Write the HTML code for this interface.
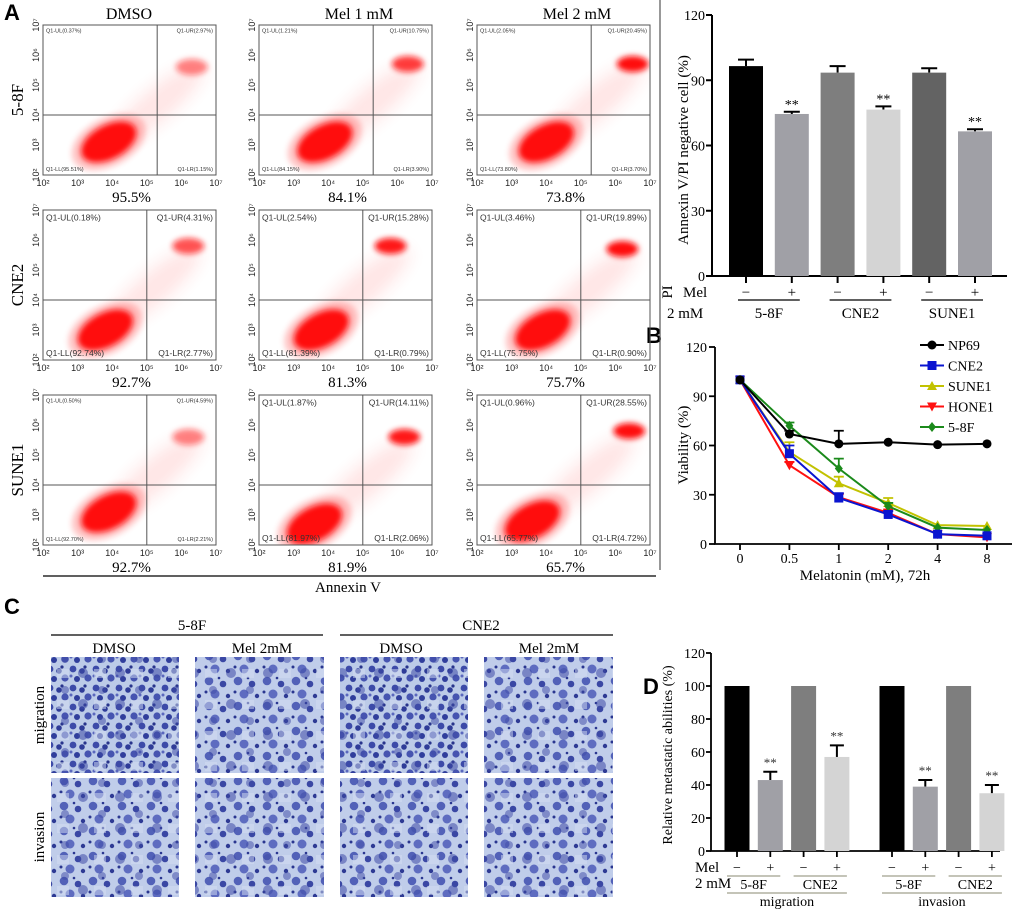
<!DOCTYPE html>
<html>
<head>
<meta charset="utf-8">
<style>
  html,body{margin:0;padding:0;background:#fff;}
  svg{display:block;}
  .serif{font-family:"Liberation Serif",serif;}
  .sans{font-family:"Liberation Sans",sans-serif;}
  .letter{font-family:"Liberation Sans",sans-serif;font-weight:bold;font-size:22px;}
</style>
</head>
<body>
<svg id="fig" width="1020" height="912" viewBox="0 0 1020 912" xmlns="http://www.w3.org/2000/svg">
  <defs>
    <filter id="blur3" x="-50%" y="-50%" width="200%" height="200%"><feGaussianBlur stdDeviation="3"/></filter>
    <filter id="blur8" x="-50%" y="-50%" width="200%" height="200%"><feGaussianBlur stdDeviation="8"/></filter>
    <pattern id="cellsA" width="23" height="19" patternUnits="userSpaceOnUse">
      <rect width="23" height="19" fill="#bccbe8"/>
      <circle cx="4" cy="4" r="3.4" fill="#3c4aa8"/>
      <circle cx="13" cy="6" r="2.8" fill="#2f3c98"/>
      <circle cx="19" cy="13" r="3.6" fill="#4654b0"/>
      <circle cx="8" cy="14" r="3" fill="#303e9c"/>
      <circle cx="16" cy="2" r="1.6" fill="#28348c"/>
      <circle cx="2" cy="11" r="1.5" fill="#5a67bd"/>
    </pattern>
    <pattern id="cellsB" width="29" height="25" patternUnits="userSpaceOnUse">
      <rect width="29" height="25" fill="#c0cdea"/>
      <circle cx="6" cy="6" r="4.3" fill="#5261b8"/>
      <circle cx="20" cy="9" r="3.3" fill="#3a47a4"/>
      <circle cx="12" cy="19" r="4.5" fill="#5e6cc0"/>
      <circle cx="25" cy="21" r="2.2" fill="#2e3a94"/>
      <circle cx="3" cy="17" r="1.5" fill="#2a3690"/>
      <circle cx="16" cy="3" r="1.3" fill="#2a3690"/>
    </pattern>
    <pattern id="cellsC" width="37" height="31" patternUnits="userSpaceOnUse">
      <circle cx="9" cy="22" r="5" fill="#3d4aa6" opacity="0.55"/>
      <circle cx="28" cy="8" r="4" fill="#3d4aa6" opacity="0.5"/>
      <rect x="20" y="18" width="12" height="9" fill="#d4def2" opacity="0.5"/>
    </pattern>
  </defs>

  <text class="letter" x="4" y="20">A</text>
  <text class="letter" x="646" y="343">B</text>
  <text class="letter" x="4" y="614">C</text>
  <text class="letter" x="643" y="694">D</text>

  <line x1="660" y1="0" x2="660" y2="570" stroke="#555" stroke-width="1.2"/>

  <g class="serif" font-size="16" text-anchor="middle">
    <text x="129" y="19">DMSO</text>
    <text x="359" y="19">Mel 1 mM</text>
    <text x="577" y="19">Mel 2 mM</text>
  </g>
  <g class="serif" font-size="17" text-anchor="middle">
    <text transform="translate(23,100) rotate(-90)">5-8F</text>
    <text transform="translate(23,285) rotate(-90)">CNE2</text>
    <text transform="translate(23,470) rotate(-90)">SUNE1</text>
  </g>
  <line x1="43" y1="576" x2="656" y2="576" stroke="#000" stroke-width="1.2"/>
  <text class="serif" x="348" y="592" font-size="15" text-anchor="middle">Annexin V</text>
  <g id="flow"></g>

  <g id="barA"></g>
  <text class="serif" font-size="15" text-anchor="middle" transform="translate(688,150) rotate(-90)">Annexin V/PI negative cell (%)</text>
  <text class="serif" font-size="15" text-anchor="middle" transform="translate(672,292) rotate(-90)">PI</text>
  <text class="serif" font-size="15" x="683" y="297">Mel</text>
  <text class="serif" font-size="15" x="667" y="318">2 mM</text>

  <g id="lineB"></g>
  <text class="serif" font-size="15" text-anchor="middle" transform="translate(688,445) rotate(-90)">Viability (%)</text>
  <text class="serif" font-size="15" x="865" y="580" text-anchor="middle">Melatonin (mM), 72h</text>

  <g class="serif" font-size="15" text-anchor="middle">
    <text x="192" y="630">5-8F</text>
    <text x="481" y="630">CNE2</text>
    <text x="114" y="653">DMSO</text>
    <text x="262" y="653">Mel 2mM</text>
    <text x="401" y="653">DMSO</text>
    <text x="549" y="653">Mel 2mM</text>
    <text transform="translate(44,715) rotate(-90)">migration</text>
    <text transform="translate(44,837) rotate(-90)">invasion</text>
  </g>
  <line x1="51" y1="635" x2="323" y2="635" stroke="#000" stroke-width="1.2"/>
  <line x1="340" y1="635" x2="613" y2="635" stroke="#000" stroke-width="1.2"/>
  <g id="micro"></g>

  <g id="barD"></g>
  <text class="serif" font-size="14" text-anchor="middle" transform="translate(672,755) rotate(-90)">Relative metastatic abilities (%)</text>
  <text class="serif" font-size="15" x="695" y="872">Mel</text>
  <text class="serif" font-size="15" x="695" y="888">2 mM</text>
</svg>

<script>
const NS = 'http://www.w3.org/2000/svg';
function mk(tag, attrs, parent) {
  const el = document.createElementNS(NS, tag);
  for (const k in attrs) el.setAttribute(k, attrs[k]);
  parent.appendChild(el);
  return el;
}

const aGroups = ['5-8F', 'CNE2', 'SUNE1'];
const aValues = [96.5, 74.5, 93.5, 76.5, 93.5, 66.5];
const aErrors = [3, 1, 3, 1.5, 2, 1];
const aSig = ['', '**', '', '**', '', '**'];
const aTicks = [0, 30, 60, 90, 120];
const aFill = ['#000000', '#a0a0a6', '#7e7e7e', '#d4d4d4', '#636363', '#a0a0a6'];

const bCats = ['0', '0.5', '1', '2', '4', '8'];
const bNP69 = [100, 67, 61, 62, 60.5, 61];
const bCNE2 = [100, 55, 28, 18, 6, 5];
const bSUNE1 = [100, 56, 37, 25, 11.5, 11];
const bHONE1 = [100, 48, 28.5, 19, 6, 4];
const b58F = [100, 72, 46, 23, 10, 8.5];
const bErrNP69 = [0, 2, 8, 1, 1, 1];
const bErrCNE2 = [0, 5, 3, 2, 1, 1];
const bErrSUNE1 = [0, 6, 4, 3, 1, 1];
const bErrHONE1 = [0, 2, 2, 2, 1, 1];
const bErr58F = [0, 2, 6, 2, 1, 1];
const bTicks = [0, 30, 60, 90, 120];

const dGroups = ['migration', 'invasion'];
const dCells = ['5-8F', 'CNE2'];
const dValues = [100, 43, 100, 57, 100, 39, 100, 35];
const dErrors = [0, 5, 0, 7, 0, 4, 0, 5];
const dSig = ['', '**', '', '**', '', '**', '', '**'];
const dTicks = [0, 20, 40, 60, 80, 100, 120];
const dFill = ['#000000', '#a0a0a6', '#7e7e7e', '#d4d4d4'];

const flowUL = [[0.37, 1.21, 2.05], [0.18, 2.54, 3.46], [0.50, 1.87, 0.96]];
const flowUR = [[2.97, 10.75, 20.45], [4.31, 15.28, 19.89], [4.59, 14.11, 28.55]];
const flowLL = [[95.51, 84.15, 73.80], [92.74, 81.39, 75.75], [92.70, 81.97, 65.77]];
const flowLR = [[1.15, 3.90, 3.70], [2.77, 0.79, 0.90], [2.21, 2.06, 4.72]];
const flowLive = [['95.5', '84.1', '73.8'], ['92.7', '81.3', '75.7'], ['92.7', '81.9', '65.7']];
const flowGateX = [5.3, 5.0, 5.0];
const flowBigLabel = [[false, false, false], [true, true, true], [false, true, true]];
const flowClusters = [
  [[3.9, 3.1, 6.3, 5.6, 0.5], [3.9, 3.1, 6.3, 5.7, 0.8], [4.0, 3.1, 6.5, 5.7, 1.0]],
  [[3.8, 3.0, 6.2, 5.8, 0.7], [3.8, 3.0, 5.8, 5.8, 0.95], [3.9, 3.0, 6.2, 5.7, 1.0]],
  [[3.9, 3.1, 6.2, 5.6, 0.5], [3.6, 2.7, 6.2, 5.6, 0.95], [3.6, 2.8, 6.4, 5.8, 1.0]]
];

const colX = [43, 259, 477], rowY = [25, 210, 395], PW = 173, PH = 150;

(function () {
  const g = document.getElementById('flow');
  const sup = ['²', '³', '⁴', '⁵', '⁶', '⁷'];
  for (let r = 0; r < 3; r++) {
    for (let c = 0; c < 3; c++) {
      const x0 = colX[c], y0 = rowY[r];
      const lx = v => x0 + (v - 2) / 5 * PW;
      const ly = v => y0 + PH - (v - 2) / 5 * PH;
      const pg = mk('g', {}, g);
      
      
      const clip = mk('clipPath', { id: 'clip' + r + c }, pg);
      mk('rect', { x: x0, y: y0, width: PW, height: PH }, clip);
      const cg = mk('g', { 'clip-path': 'url(#clip' + r + c + ')' }, pg);
      const cl = flowClusters[r][c];
      const mx = lx((cl[0] + cl[2]) / 2 + 0.2), my = ly((cl[1] + cl[3]) / 2);
      const cloud = mk('ellipse', { cx: mx, cy: my, rx: 60, ry: 16, fill: '#ff3030', opacity: 0.12, filter: 'url(#blur8)', transform: 'rotate(-40 ' + mx + ' ' + my + ')' }, cg);
      
      
      const llx = lx(cl[0]), lly = ly(cl[1]);
      const llh = mk('ellipse', { cx: llx, cy: lly, rx: 40, ry: 24, fill: '#ff4040', opacity: 0.3, filter: 'url(#blur3)', transform: 'rotate(-28 ' + llx + ' ' + lly + ')' }, cg);
      
      
      const ll = mk('ellipse', { cx: llx, cy: lly, rx: 30, ry: 17, fill: '#ff1010', filter: 'url(#blur3)', transform: 'rotate(-28 ' + llx + ' ' + lly + ')' }, cg);
      
      
      const ur = mk('ellipse', { cx: lx(cl[2]), cy: ly(cl[3]), rx: 16, ry: 8, fill: '#ff1010', opacity: cl[4], filter: 'url(#blur3)' }, cg);
      
      
      const fr = mk('rect', { x: x0, y: y0, width: PW, height: PH, fill: 'none', stroke: '#555', 'stroke-width': 1 }, pg);
      
      
      const vx = lx(flowGateX[r]);
      const gv = mk('line', { x1: vx, y1: y0, x2: vx, y2: y0 + PH, stroke: '#555', 'stroke-width': 1 }, pg);
      
      
      const gh = mk('line', { x1: x0, y1: ly(4), x2: x0 + PW, y2: ly(4), stroke: '#555', 'stroke-width': 1 }, pg);
      
      
      const big = flowBigLabel[r][c];
      const fs = big ? 8.5 : 5.5;
      const f = v => v.toFixed(2) + '%';
      const q = [['Q1-UL(' + f(flowUL[r][c]) + ')', x0 + 3, y0 + fs + 2, 'start'],
                 ['Q1-UR(' + f(flowUR[r][c]) + ')', x0 + PW - 3, y0 + fs + 2, 'end'],
                 ['Q1-LL(' + f(flowLL[r][c]) + ')', x0 + 3, y0 + PH - 4, 'start'],
                 ['Q1-LR(' + f(flowLR[r][c]) + ')', x0 + PW - 3, y0 + PH - 4, 'end']];
      q.forEach(t => {
        const tx = mk('text', { x: t[1], y: t[2], 'font-size': fs, 'text-anchor': t[3], fill: '#333', class: 'sans' }, pg);
        tx.textContent = t[0];
        
        
      });
      for (let e = 2; e <= 7; e++) {
        const xt = mk('text', { x: lx(e), y: y0 + PH + 11, 'font-size': 9, 'text-anchor': 'middle', class: 'sans', fill: '#222' }, pg);
        xt.textContent = '10' + sup[e - 2];
        
        
        const yt = mk('text', { 'font-size': 9, 'text-anchor': 'middle', class: 'sans', fill: '#222', transform: 'translate(' + (x0 - 4) + ',' + ly(e) + ') rotate(-90)' }, pg);
        yt.textContent = '10' + sup[e - 2];
        
        
      }
      const pct = mk('text', { x: x0 + PW / 2 + 2, y: y0 + PH + 27, 'font-size': 15, 'text-anchor': 'middle', class: 'serif' }, pg);
      pct.textContent = flowLive[r][c] + '%';
      
      
    }
  }
})();

(function () {
  const g = document.getElementById('barA');
  const yA = v => 276 - v * (261 / 120);
  const xA = i => 746 + i * 45.8;
  const axis = mk('path', { d: 'M712 15 V276 H1007', fill: 'none', stroke: '#000', 'stroke-width': 2 }, g);
  
  
  aTicks.forEach(t => {
    const tk = mk('line', { x1: 706, y1: yA(t), x2: 712, y2: yA(t), stroke: '#000', 'stroke-width': 2 }, g);
    
    
    const tl = mk('text', { x: 705, y: yA(t) + 5, 'text-anchor': 'end', 'font-size': 14, class: 'serif' }, g);
    tl.textContent = t;
    
    
  });
  aValues.forEach((v, i) => {
    const x = xA(i);
    const eb = mk('path', { d: 'M' + x + ' ' + yA(v) + ' V' + yA(v + aErrors[i]) + ' M' + (x - 8) + ' ' + yA(v + aErrors[i]) + ' H' + (x + 8), stroke: '#000', 'stroke-width': 2, fill: 'none' }, g);
    
    
    const b = mk('rect', { x: x - 17, y: yA(v), width: 34, height: 276 - yA(v), fill: aFill[i] }, g);
    
    
    const tk = mk('line', { x1: x, y1: 276, x2: x, y2: 283, stroke: '#000', 'stroke-width': 2 }, g);
    
    
    if (aSig[i]) {
      const s = mk('text', { x: x, y: yA(v + aErrors[i]) - 3, 'text-anchor': 'middle', 'font-size': 14, class: 'serif' }, g);
      s.textContent = aSig[i];
      
      
    }
    const pm = mk('text', { x: x, y: 297, 'text-anchor': 'middle', 'font-size': 15, class: 'serif' }, g);
    pm.textContent = i % 2 ? '+' : '\u2212';
    
    
  });
  aGroups.forEach((name, k) => {
    const x1 = xA(2 * k), x2 = xA(2 * k + 1);
    const ul = mk('line', { x1: x1 - 8, y1: 300, x2: x2 + 8, y2: 300, stroke: '#000', 'stroke-width': 1.2 }, g);
    
    
    const gl = mk('text', { x: (x1 + x2) / 2, y: 318, 'text-anchor': 'middle', 'font-size': 15, class: 'serif' }, g);
    gl.textContent = name;
    
    
  });
})();

(function () {
  const g = document.getElementById('lineB');
  const xB = i => 740 + i * 49.4;
  const yB = v => 544 - v * (197 / 120);
  const axis = mk('path', { d: 'M715 347 V544 H1012', fill: 'none', stroke: '#000', 'stroke-width': 1.8 }, g);
  
  
  bTicks.forEach(t => {
    const tk = mk('line', { x1: 709, y1: yB(t), x2: 715, y2: yB(t), stroke: '#000', 'stroke-width': 1.8 }, g);
    
    
    const tl = mk('text', { x: 707, y: yB(t) + 5, 'text-anchor': 'end', 'font-size': 14, class: 'serif' }, g);
    tl.textContent = t;
    
    
  });
  bCats.forEach((c, i) => {
    const tk = mk('line', { x1: xB(i), y1: 544, x2: xB(i), y2: 550, stroke: '#000', 'stroke-width': 1.8 }, g);
    
    
    const tl = mk('text', { x: xB(i), y: 563, 'text-anchor': 'middle', 'font-size': 14, class: 'serif' }, g);
    tl.textContent = c;
    
    
  });
  function marker(parent, type, x, y, col) {
    if (type === 'circle') return mk('circle', { cx: x, cy: y, r: 4.5, fill: col }, parent);
    if (type === 'square') return mk('rect', { x: x - 4.5, y: y - 4.5, width: 9, height: 9, fill: col }, parent);
    if (type === 'up') return mk('path', { d: 'M' + x + ' ' + (y - 5) + ' L' + (x + 5) + ' ' + (y + 4) + ' L' + (x - 5) + ' ' + (y + 4) + 'Z', fill: col }, parent);
    if (type === 'down') return mk('path', { d: 'M' + x + ' ' + (y + 5) + ' L' + (x + 5) + ' ' + (y - 4) + ' L' + (x - 5) + ' ' + (y - 4) + 'Z', fill: col }, parent);
    return mk('path', { d: 'M' + x + ' ' + (y - 5) + ' L' + (x + 4) + ' ' + y + ' L' + x + ' ' + (y + 5) + ' L' + (x - 4) + ' ' + y + 'Z', fill: col }, parent);
  }
  const series = [
    ['HONE1', bHONE1, bErrHONE1, '#ff1010', 'down'],
    ['SUNE1', bSUNE1, bErrSUNE1, '#c2c200', 'up'],
    ['5-8F', b58F, bErr58F, '#1b8a1b', 'diamond'],
    ['CNE2', bCNE2, bErrCNE2, '#0a14d0', 'square'],
    ['NP69', bNP69, bErrNP69, '#000000', 'circle']
  ];
  series.forEach(s => {
    const sg = mk('g', {}, g);
    
    
    const pts = s[1].map((v, i) => xB(i) + ',' + yB(v)).join(' ');
    const pl = mk('polyline', { points: pts, fill: 'none', stroke: s[3], 'stroke-width': 2 }, sg);
    
    
    s[1].forEach((v, i) => {
      if (s[2][i] > 1.5) {
        const e = mk('path', { d: 'M' + xB(i) + ' ' + yB(v) + ' V' + yB(v + s[2][i]) + ' M' + (xB(i) - 5) + ' ' + yB(v + s[2][i]) + ' H' + (xB(i) + 5), stroke: s[3], 'stroke-width': 1.8, fill: 'none' }, sg);
        
        
      }
      const m = marker(sg, s[4], xB(i), yB(v), s[3]);
      
      
    });
  });
  const legendOrder = [4, 3, 1, 0, 2];
  legendOrder.forEach((si, k) => {
    const s = series[si];
    const y = 345 + k * 20.5;
    const lg = mk('g', {}, g);
    
    
    mk('line', { x1: 920, y1: y, x2: 944, y2: y, stroke: s[3], 'stroke-width': 2 }, lg);
    marker(lg, s[4], 932, y, s[3]);
    const t = mk('text', { x: 948, y: y + 5, 'font-size': 14, class: 'serif' }, lg);
    t.textContent = s[0];
  });
})();

(function () {
  const g = document.getElementById('micro');
  const xs = [[51, 179], [195, 324], [340, 468], [484, 613]];
  const ys = [[657, 773], [778, 897]];
  const fills = [['url(#cellsA)', 'url(#cellsB)', 'url(#cellsA)', 'url(#cellsB)'],
                 ['url(#cellsB)', 'url(#cellsB)', 'url(#cellsB)', 'url(#cellsB)']];
  const names = ['58f-dmso', '58f-mel', 'cne2-dmso', 'cne2-mel'];
  const rows = ['migration', 'invasion'];
  ys.forEach((yy, r) => {
    xs.forEach((xx, c) => {
      const im = mk('g', {}, g);
      
      
      mk('rect', { x: xx[0], y: yy[0], width: xx[1] - xx[0], height: yy[1] - yy[0], fill: fills[r][c] }, im);
      mk('rect', { x: xx[0], y: yy[0], width: xx[1] - xx[0], height: yy[1] - yy[0], fill: 'url(#cellsC)' }, im);
    });
  });
})();

(function () {
  const g = document.getElementById('barD');
  const yD = v => 851 - v * (198 / 120);
  const xD = i => 737 + Math.floor(i / 4) * 155 + (i % 4) * 33.3;
  const axis = mk('path', { d: 'M711 653 V851 H1000', fill: 'none', stroke: '#000', 'stroke-width': 1.8 }, g);
  
  
  dTicks.forEach(t => {
    const tk = mk('line', { x1: 706, y1: yD(t), x2: 711, y2: yD(t), stroke: '#000', 'stroke-width': 1.8 }, g);
    
    
    const tl = mk('text', { x: 705, y: yD(t) + 5, 'text-anchor': 'end', 'font-size': 14, class: 'serif' }, g);
    tl.textContent = t;
    
    
  });
  dValues.forEach((v, i) => {
    const x = xD(i);
    if (dErrors[i]) {
      const eb = mk('path', { d: 'M' + x + ' ' + yD(v) + ' V' + yD(v + dErrors[i]) + ' M' + (x - 7) + ' ' + yD(v + dErrors[i]) + ' H' + (x + 7), stroke: '#000', 'stroke-width': 2, fill: 'none' }, g);
      
      
    }
    const b = mk('rect', { x: x - 12.5, y: yD(v), width: 25, height: 851 - yD(v), fill: dFill[i % 4] }, g);
    
    
    const tk = mk('line', { x1: x, y1: 851, x2: x, y2: 857, stroke: '#000', 'stroke-width': 1.8 }, g);
    
    
    if (dSig[i]) {
      const s = mk('text', { x: x, y: yD(v + dErrors[i]) - 5, 'text-anchor': 'middle', 'font-size': 13, class: 'serif', fill: '#333' }, g);
      s.textContent = dSig[i];
      
      
    }
    const pm = mk('text', { x: x, y: 872, 'text-anchor': 'middle', 'font-size': 14, class: 'serif' }, g);
    pm.textContent = i % 2 ? '+' : '\u2212';
    
    
  });
  dGroups.forEach((grp, gi) => {
    dCells.forEach((cell, ci) => {
      const i1 = gi * 4 + ci * 2;
      const cx = (xD(i1) + xD(i1 + 1)) / 2;
      const ul = mk('line', { x1: xD(i1) - 10, y1: 876, x2: xD(i1 + 1) + 10, y2: 876, stroke: '#8a8a70', 'stroke-width': 1 }, g);
      
      
      const t = mk('text', { x: cx, y: 889, 'text-anchor': 'middle', 'font-size': 14, class: 'serif' }, g);
      t.textContent = cell;
      
      
    });
    const gx1 = xD(gi * 4) - 10, gx2 = xD(gi * 4 + 3) + 10;
    const gl = mk('line', { x1: gx1, y1: 893, x2: gx2, y2: 893, stroke: '#8a8a70', 'stroke-width': 1 }, g);
    
    
    const gt = mk('text', { x: (gx1 + gx2) / 2, y: 906, 'text-anchor': 'middle', 'font-size': 14, class: 'serif' }, g);
    gt.textContent = grp;
    
    
  });
})();
</script>
</body>
</html>
